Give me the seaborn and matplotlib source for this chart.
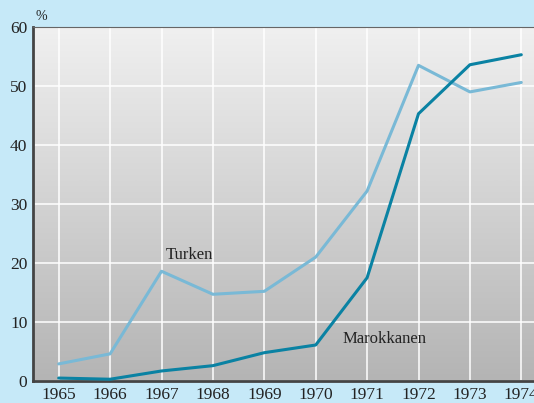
import numpy as np
import pandas as pd
import matplotlib
matplotlib.use("Agg")
import matplotlib.pyplot as plt
import seaborn as sns
from matplotlib.colors import LinearSegmentedColormap

years = [1965, 1966, 1967, 1968, 1969, 1970, 1971, 1972, 1973, 1974]
turken = [2.9, 4.6, 18.6, 14.7, 15.2, 21.0, 32.2, 53.5, 49.0, 50.6]
marokkanen = [0.5, 0.3, 1.7, 2.6, 4.8, 6.1, 17.5, 45.3, 53.6, 55.3]
yticks = [0, 10, 20, 30, 40, 50, 60]

df = pd.DataFrame({
    "jaar": years * 2,
    "pct": turken + marokkanen,
    "groep": ["Turken"] * len(years) + ["Marokkanen"] * len(years),
})

sns.set_style("white")
plt.rcParams['font.family'] = ['Liberation Serif', 'DejaVu Serif']

bg = "#c6e9f8"
fig = plt.figure(figsize=(5.34, 4.03), dpi=100, facecolor=bg)
ax = fig.add_axes([33 / 534, 22 / 403, 514 / 534, 354 / 403])

# grey gradient behind the plot
grad = LinearSegmentedColormap.from_list("g", ["#b4b4b4", "#f0f0f0"])
ax.imshow(np.linspace(0, 1, 256).reshape(-1, 1), cmap=grad, origin="lower",
          aspect="auto", extent=[0, 1, 0, 1], transform=ax.transAxes, zorder=0)

sns.lineplot(data=df, x="jaar", y="pct", hue="groep", ax=ax,
             palette={"Turken": "#79b9d6", "Marokkanen": "#0a82a3"},
             linewidth=2.2, legend=False, zorder=3)

ax.set_xlim(1964.5, 1974.5)
ax.set_ylim(0, 60)
ax.set_xticks(years)
ax.set_yticks(yticks)
ax.grid(True, color="white", linewidth=1.1, zorder=1)
ax.set_axisbelow(True)
ax.tick_params(length=0, labelsize=12.5, colors="#222222", pad=4)
ax.set_xlabel("")
ax.set_ylabel("")

for side in ["left", "bottom"]:
    ax.spines[side].set_color("#444444")
    ax.spines[side].set_linewidth(2)
ax.spines["top"].set_color("#666666")
ax.spines["top"].set_linewidth(0.8)
ax.spines["right"].set_visible(False)

ax.text(1967.08, 20.7, "Turken", fontsize=12, color="#222222")
ax.text(1970.53, 6.5, "Marokkanen", fontsize=12, color="#222222")
fig.text(35 / 534, 1 - 16 / 403, "%", fontsize=10, color="#222222", va="center")

plt.savefig("out.png", dpi=100, facecolor=bg)
